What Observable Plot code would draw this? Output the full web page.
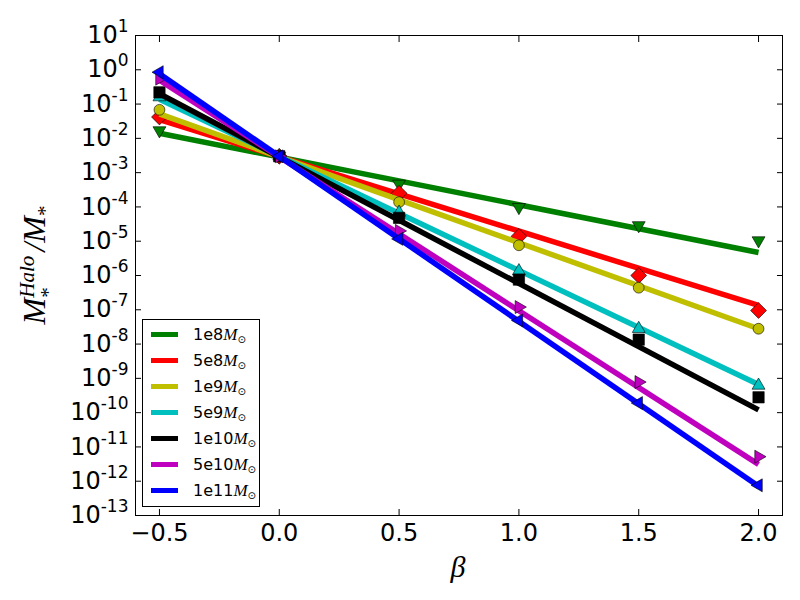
<!DOCTYPE html>
<html>
<head>
<meta charset="utf-8">
<script src="https://cdn.jsdelivr.net/npm/d3@7"></script>
<script src="https://cdn.jsdelivr.net/npm/@observablehq/plot@0.6"></script>
<style>
  body { margin: 0; background: #fff; }
  #wrap { position: relative; width: 800px; height: 600px; font-family: "DejaVu Sans", sans-serif; }
  #ylabel { position: absolute; left: 38px; top: 265px; transform: translate(-50%, -50%) rotate(-90deg); white-space: nowrap;
            font-family: "Liberation Serif", "DejaVu Serif", serif; font-style: italic; font-size: 32px; line-height: 1; }
  #ylabel .ss { display: inline-block; vertical-align: middle; font-size: 0.66em; line-height: 1.0; text-align: left; margin-right: 4px; }
  #ylabel .ss span { display: block; }
  #ylabel .sub { font-size: 0.66em; vertical-align: -0.3em; font-style: normal; }
  #xlabel { position: absolute; left: 458px; top: 567px; transform: translate(-50%, -50%);
            font-family: "Liberation Serif", "DejaVu Serif", serif; font-style: italic; font-size: 30px; }
  #legend { position: absolute; left: 142px; top: 319px; width: 116px; height: 186px; border: 1px solid #000; background: #fff; }
  .row { position: absolute; left: 0; height: 26px; width: 116px; }
  .row .sw { position: absolute; left: 8px; width: 27px; height: 5px; }
  .row .tx { position: absolute; left: 50px; font-size: 16px; white-space: nowrap; line-height: 1; }
  .row .tx i { font-family: "Liberation Serif", "DejaVu Serif", serif; font-size: 17px; }
  .row .tx sub { font-size: 10px; vertical-align: -3px; }
</style>
</head>
<body>
<div id="wrap"></div>
<script>
// ---- data ----
const beta = [-0.5, 0, 0.5, 1.0, 1.5, 2.0];
const fitBeta = [-0.5, 2.0];
const seriesLabels = ["1e8", "5e8", "1e9", "5e9", "1e10", "5e10", "1e11"];
const seriesColors = ["#008000", "#ff0000", "#bfbf00", "#00bfbf", "#000000", "#bf00bf", "#0000ff"];
const seriesSymbols = ["triangle", "square", "circle", "triangle", "square", "triangle", "triangle"];
const seriesRotate = [180, 45, 0, 0, 0, 90, -90];
const seriesR = [4.8, 6.3, 5.4, 4.8, 6.4, 4.8, 4.8];

const ratio1e8  = [1.7e-2, 3.0e-3, 4.7e-4, 9.8e-5, 2.9e-5, 1.05e-5];
const ratio5e8  = [4.2e-2, 3.0e-3, 2.5e-4, 1.38e-5, 1.0e-6, 9.5e-8];
const ratio1e9  = [6.8e-2, 3.0e-3, 1.38e-4, 7.6e-6, 4.4e-7, 2.8e-8];
const ratio5e9  = [1.6e-1, 3.0e-3, 6.9e-5, 1.35e-6, 2.8e-8, 6.2e-10];
const ratio1e10 = [2.2e-1, 3.0e-3, 4.8e-5, 7.6e-7, 1.35e-8, 2.8e-10];
const ratio5e10 = [5.5e-1, 3.0e-3, 2.0e-5, 1.2e-7, 7.8e-10, 5.2e-12];
const ratio1e11 = [8.5e-1, 3.0e-3, 1.17e-5, 4.9e-8, 1.9e-10, 7.6e-13];
const ratios = [ratio1e8, ratio5e8, ratio1e9, ratio5e9, ratio1e10, ratio5e10, ratio1e11];

const fitStart = [1.41e-2, 3.5e-2, 5.2e-2, 1.38e-1, 2.0e-1, 5.0e-1, 7.6e-1];
const fitEnd   = [4.7e-6, 1.35e-7, 2.8e-8, 6.6e-10, 1.2e-10, 3.1e-12, 7.1e-13];

const xTicks = [-0.5, 0.0, 0.5, 1.0, 1.5, 2.0];
const yExponents = [-13, -12, -11, -10, -9, -8, -7, -6, -5, -4, -3, -2, -1, 0, 1];
const yTicks = yExponents.map(e => Math.pow(10, e));

// ---- marks ----
const marks = [];
seriesLabels.forEach((lab, i) => {
  const fit = fitBeta.map((b, j) => ({beta: b, value: j === 0 ? fitStart[i] : fitEnd[i]}));
  const pts = beta.map((b, j) => ({beta: b, value: ratios[i][j]}));
  marks.push(Plot.line(fit, {x: "beta", y: "value", stroke: seriesColors[i], strokeWidth: 5.5, strokeLinecap: "butt"}));
  marks.push(Plot.dot(pts, {x: "beta", y: "value", symbol: seriesSymbols[i], r: seriesR[i], rotate: seriesRotate[i],
    fill: seriesColors[i], stroke: "black", strokeWidth: 0.6}));
});

const fmtX = d => (d < 0 ? "\u2212" : "") + Math.abs(d).toFixed(1);

marks.push(
  Plot.frame({stroke: "black", strokeWidth: 1}),
  Plot.axisX({anchor: "bottom", ticks: xTicks, tickSize: -6, fill: "none", label: null}),
  Plot.axisX({anchor: "top", ticks: xTicks, tickSize: -6, fill: "none", label: null}),
  Plot.axisX({anchor: "bottom", ticks: xTicks, tickSize: 0, tickPadding: 8, tickFormat: fmtX, fontSize: 24, label: null}),
  Plot.axisY({anchor: "left", ticks: yTicks, tickSize: -6, fill: "none", label: null}),
  Plot.axisY({anchor: "right", ticks: yTicks, tickSize: -6, fill: "none", label: null}),
  Plot.axisY({anchor: "left", ticks: yTicks, tickSize: 0, tickPadding: 7,
    tickFormat: d => "10|" + Math.round(Math.log10(d)), fontSize: 24, label: null})
);

const chart = Plot.plot({
  width: 800,
  height: 600,
  marginLeft: 135,
  marginRight: 18,
  marginTop: 35,
  marginBottom: 85,
  style: {fontFamily: "DejaVu Sans, sans-serif", background: "white", overflow: "visible"},
  x: {domain: [-0.6, 2.1], label: null},
  y: {type: "log", domain: [1e-13, 10], label: null},
  marks
});

// superscript exponents in the y tick labels
d3.select(chart).selectAll("text").each(function () {
  const t = this.textContent;
  if (t.includes("|")) {
    const [base, ex] = t.split("|");
    const sel = d3.select(this);
    sel.text(base);
    sel.append("tspan").attr("dy", "-11").attr("font-size", 17).text(ex);
  }
});

const wrap = document.getElementById("wrap");
wrap.appendChild(chart);

// axis labels
const yl = document.createElement("div");
yl.id = "ylabel";
yl.innerHTML = 'M<span class="ss"><span>Halo</span><span style="font-style:normal">*</span></span>/M<span class="sub">*</span>';
wrap.appendChild(yl);

const xl = document.createElement("div");
xl.id = "xlabel";
xl.textContent = "\u03B2";
wrap.appendChild(xl);

// legend
const lg = document.createElement("div");
lg.id = "legend";
seriesLabels.forEach((lab, i) => {
  const row = document.createElement("div");
  row.className = "row";
  row.style.top = (1 + i * 26) + "px";
  row.innerHTML = `<div class="sw" style="top:11px;background:${seriesColors[i]}"></div>` +
    `<div class="tx" style="top:5px">${lab}<i>M</i><sub>\u2299</sub></div>`;
  lg.appendChild(row);
});
wrap.appendChild(lg);
</script>
</body>
</html>
